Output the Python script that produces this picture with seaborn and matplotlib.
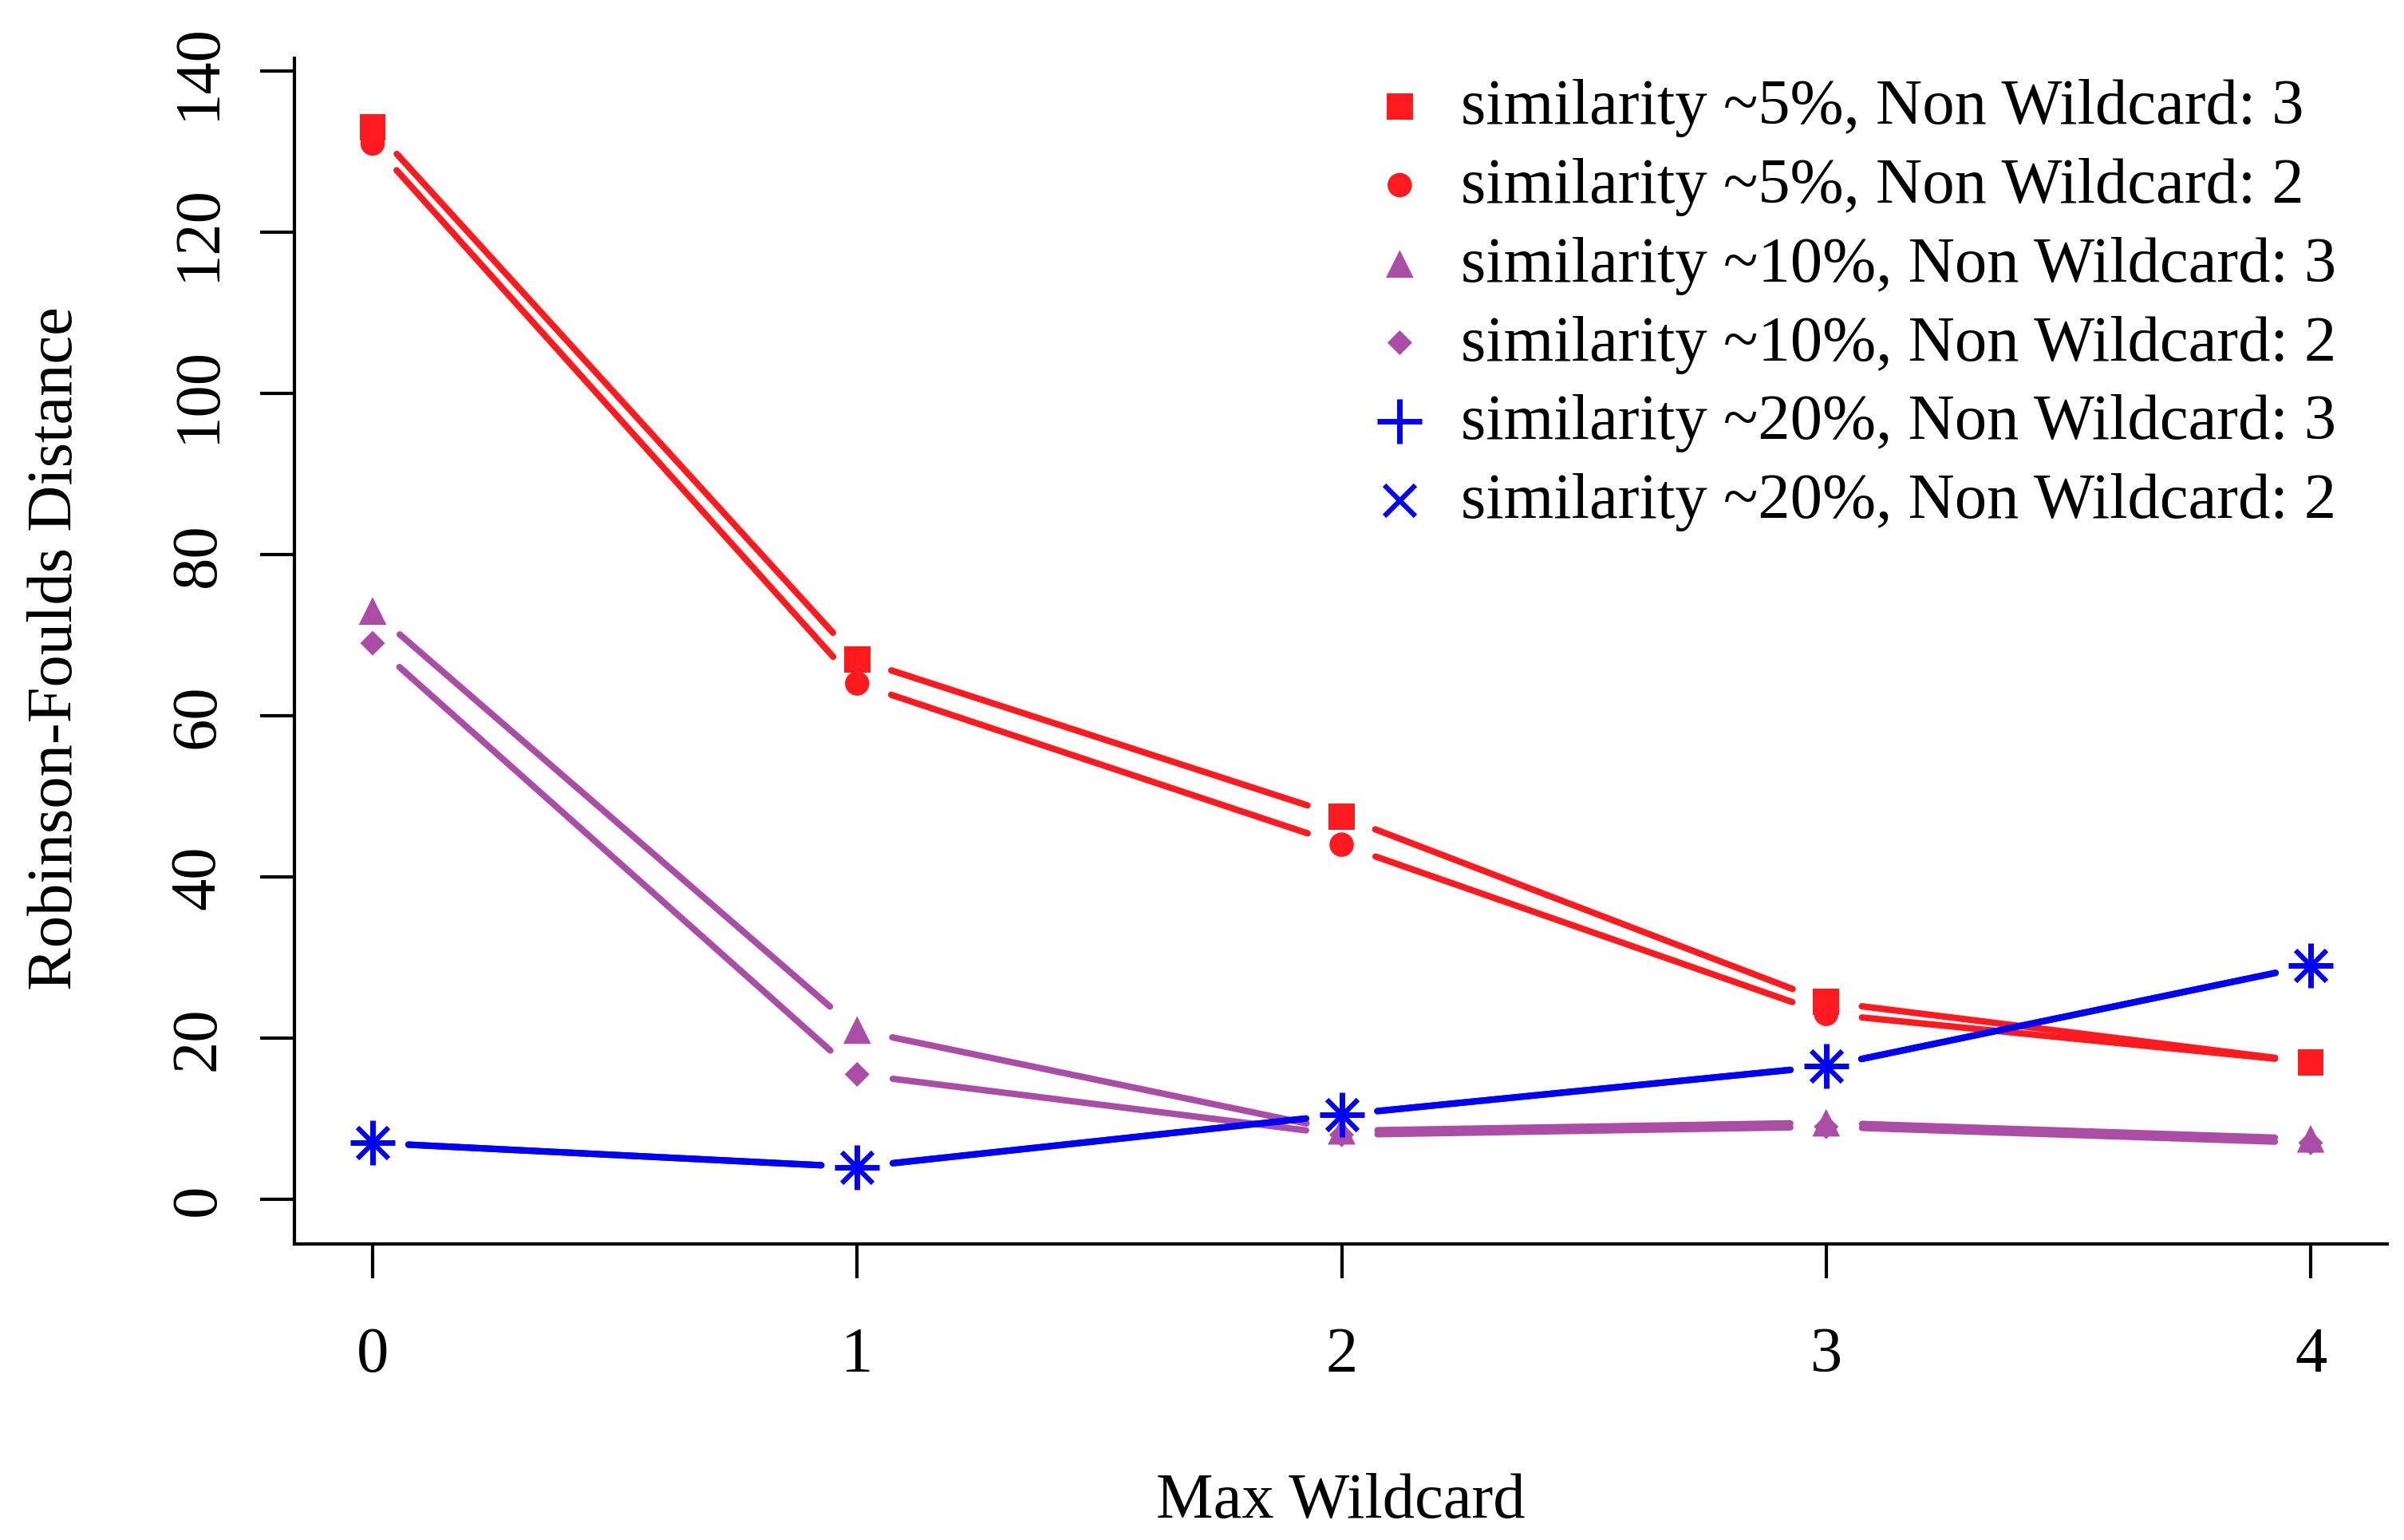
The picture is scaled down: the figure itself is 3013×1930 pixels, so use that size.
import numpy as np
import pandas as pd
import matplotlib
matplotlib.use("Agg")
import matplotlib.pyplot as plt
import seaborn as sns

# ---------------- data ----------------
max_wildcard = [0, 1, 2, 3, 4]
sim5_nw3 = [133, 67, 47.5, 24.5, 17]
sim5_nw2 = [131, 64, 44, 23, 17]
sim10_nw3 = [73, 21, 8.5, 9.5, 7.5]
sim10_nw2 = [69, 15.5, 8, 9, 7]
sim20_nw3 = [7, 4, 10.5, 16.5, 29]
sim20_nw2 = [7, 4, 10.5, 16.5, 29]
series_labels = [
    "similarity ~5%, Non Wildcard: 3",
    "similarity ~5%, Non Wildcard: 2",
    "similarity ~10%, Non Wildcard: 3",
    "similarity ~10%, Non Wildcard: 2",
    "similarity ~20%, Non Wildcard: 3",
    "similarity ~20%, Non Wildcard: 2",
]
x_ticks = [0, 1, 2, 3, 4]
y_ticks = [0, 20, 40, 60, 80, 100, 120, 140]
x_title = "Max Wildcard"
y_title = "Robinson-Foulds Distance"

# ---------------- style ----------------
RED = "#FF1A1F"
PURPLE = "#AB4DA6"
BLUE = "#0000FF"
FS = 58

sns.set_theme(style="ticks", rc={
    "axes.edgecolor": "black",
    "text.color": "black",
    "axes.labelcolor": "black",
    "xtick.color": "black",
    "ytick.color": "black",
})
plt.rcParams["font.family"] = ["Liberation Serif", "DejaVu Serif"]

W, H, DPI = 3013, 1931, 100
fig = plt.figure(figsize=(W / DPI, H / DPI), dpi=DPI)
ax = fig.add_axes([369 / W, 1 - 1560 / H, (2992 - 369) / W, (1560 - 74) / H])
ax.set_xlim(-0.1614, 4.158)
ax.set_ylim(-5.545, 141.58)

series = [
    (sim5_nw3, RED, "s", 23.5 ** 2, 0.0),
    (sim5_nw2, RED, "o", 22.0 ** 2, 0.0),
    (sim10_nw3, PURPLE, "^", 25.0 ** 2, 0.0),
    (sim10_nw2, PURPLE, "D", 15.8 ** 2, 0.0),
    (sim20_nw3, BLUE, "+", 40.0 ** 2, 5.0),
    (sim20_nw2, BLUE, "x", 28.0 ** 2, 4.5),
]

GAP = 45  # pixels of white space between a point and its connecting line (R type="b")
LW = 5.8


def gapped(xs, ys):
    pts = ax.transData.transform(np.column_stack([xs, ys]))
    inv = ax.transData.inverted()
    rows = []
    for i in range(len(xs) - 1):
        p0, p1 = pts[i], pts[i + 1]
        d = p1 - p0
        L = np.hypot(*d)
        if L <= 2 * GAP:
            continue
        u = d / L
        a, b = inv.transform(np.array([p0 + u * GAP, p1 - u * GAP]))
        rows.append((i, a[0], a[1]))
        rows.append((i, b[0], b[1]))
    return pd.DataFrame(rows, columns=["seg", "x", "y"])


for k, ((vals, col, mk, sz, elw), lab) in enumerate(zip(series, series_labels)):
    seg = gapped(max_wildcard, vals)
    sns.lineplot(data=seg, x="x", y="y", units="seg", estimator=None, sort=False,
                 color=col, lw=LW, ax=ax, legend=False, zorder=2 + k * 0.01)
for k, ((vals, col, mk, sz, elw), lab) in enumerate(zip(series, series_labels)):
    if elw > 0:
        sns.scatterplot(x=max_wildcard, y=vals, marker=mk, s=sz, color=col,
                        edgecolor=col, linewidth=elw, label=lab, ax=ax, zorder=3)
    else:
        sns.scatterplot(x=max_wildcard, y=vals, marker=mk, s=sz, color=col,
                        edgecolor="none", linewidth=0, label=lab, ax=ax, zorder=3)

# ---------------- axes ----------------
sns.despine(ax=ax)
ax.spines["left"].set_linewidth(3)
ax.spines["bottom"].set_linewidth(3)
ax.set_xticks(x_ticks)
ax.set_yticks(y_ticks)
ax.set_xticklabels([str(v) for v in x_ticks])
ax.set_yticklabels([str(v) for v in y_ticks])
ax.tick_params(axis="both", direction="out", length=31, width=3, labelsize=FS)
ax.tick_params(axis="x", pad=43)
ax.tick_params(axis="y", pad=29)
for lbl in ax.get_yticklabels():
    lbl.set_rotation(90)
    lbl.set_va("center")

ax.set_xlabel(x_title, fontsize=FS)
ax.xaxis.set_label_coords(0.5, -0.230)
ax.xaxis.label.set_va("baseline")
ax.set_ylabel(y_title, fontsize=FS)
ax.yaxis.set_label_coords(-0.1064, 0.5027)
ax.yaxis.label.set_va("baseline")

ax.legend(loc="upper left", bbox_to_anchor=(0.5128, 0.9832), frameon=False,
          fontsize=FS, handlelength=1.0, handletextpad=0.45, labelspacing=0.315,
          borderpad=0, borderaxespad=0, scatterpoints=1)

fig.savefig("out.png", dpi=DPI)
